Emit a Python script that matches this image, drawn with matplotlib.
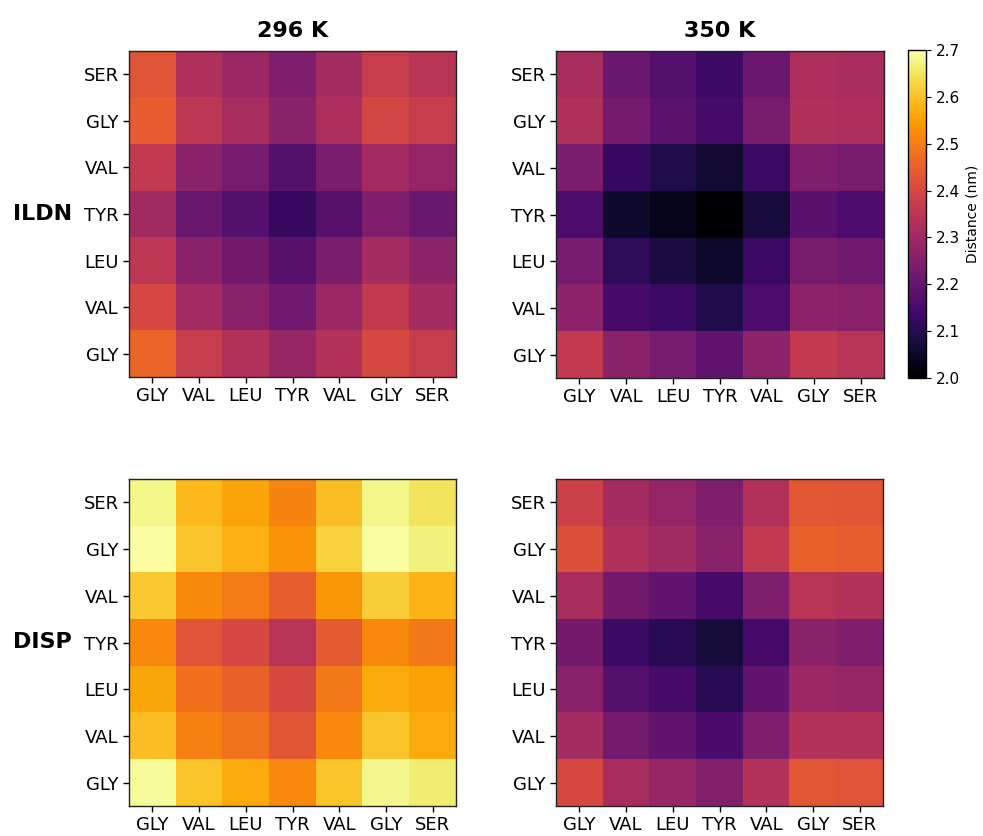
import numpy as np
import matplotlib
matplotlib.use("Agg")
import matplotlib.pyplot as plt

residues = ["GLY", "VAL", "LEU", "TYR", "VAL", "GLY", "SER"]
temps = ["296 K", "350 K"]
forcefields = ["ILDN", "DISP"]

# rows listed top to bottom as displayed (SER, GLY, VAL, TYR, LEU, VAL, GLY)
ildn_296 = [
    [2.427, 2.330, 2.295, 2.245, 2.310, 2.370, 2.345],
    [2.445, 2.350, 2.315, 2.265, 2.320, 2.395, 2.370],
    [2.362, 2.265, 2.230, 2.175, 2.238, 2.308, 2.280],
    [2.305, 2.210, 2.175, 2.122, 2.180, 2.245, 2.210],
    [2.350, 2.265, 2.225, 2.180, 2.240, 2.310, 2.273],
    [2.400, 2.308, 2.265, 2.220, 2.290, 2.362, 2.310],
    [2.458, 2.370, 2.333, 2.287, 2.336, 2.400, 2.370],
]
ildn_350 = [
    [2.315, 2.210, 2.175, 2.133, 2.213, 2.320, 2.315],
    [2.330, 2.228, 2.185, 2.150, 2.235, 2.330, 2.320],
    [2.240, 2.122, 2.090, 2.063, 2.130, 2.245, 2.235],
    [2.158, 2.056, 2.035, 2.000, 2.073, 2.182, 2.160],
    [2.230, 2.112, 2.077, 2.052, 2.126, 2.235, 2.217],
    [2.270, 2.150, 2.130, 2.088, 2.158, 2.270, 2.262],
    [2.362, 2.265, 2.230, 2.190, 2.270, 2.362, 2.343],
]
disp_296 = [
    [2.680, 2.590, 2.560, 2.510, 2.595, 2.680, 2.650],
    [2.697, 2.605, 2.575, 2.535, 2.623, 2.697, 2.672],
    [2.612, 2.520, 2.497, 2.448, 2.540, 2.617, 2.580],
    [2.515, 2.427, 2.400, 2.343, 2.438, 2.518, 2.494],
    [2.563, 2.480, 2.452, 2.402, 2.494, 2.567, 2.553],
    [2.595, 2.508, 2.483, 2.430, 2.518, 2.602, 2.567],
    [2.690, 2.602, 2.567, 2.515, 2.602, 2.683, 2.662],
]
disp_350 = [
    [2.382, 2.310, 2.280, 2.245, 2.333, 2.434, 2.430],
    [2.420, 2.330, 2.305, 2.265, 2.362, 2.452, 2.448],
    [2.315, 2.225, 2.196, 2.150, 2.245, 2.343, 2.336],
    [2.225, 2.130, 2.100, 2.070, 2.150, 2.265, 2.245],
    [2.260, 2.175, 2.150, 2.100, 2.196, 2.294, 2.287],
    [2.310, 2.228, 2.196, 2.154, 2.245, 2.336, 2.336],
    [2.402, 2.315, 2.287, 2.250, 2.336, 2.434, 2.424],
]

vmin, vmax = 2.0, 2.7
cmap = "inferno"

W, H = 983, 836
fig = plt.figure(figsize=(W / 100, H / 100), dpi=100)

def rect(x0, y0, x1, y1):
    return [x0 / W, 1 - y1 / H, (x1 - x0) / W, (y1 - y0) / H]

positions = {
    (0, 0): rect(129, 51, 456, 377),
    (0, 1): rect(556, 51, 884, 378),
    (1, 0): rect(129, 479, 456, 806),
    (1, 1): rect(556, 479, 883, 806),
}
data = {(0, 0): ildn_296, (0, 1): ildn_350, (1, 0): disp_296, (1, 1): disp_350}

im = None
for (r, c), pos in positions.items():
    ax = fig.add_axes(pos)
    im = ax.imshow(np.array(data[(r, c)]), cmap=cmap, vmin=vmin, vmax=vmax,
                   aspect="auto", origin="upper", interpolation="nearest")
    ax.set_xticks(range(len(residues)))
    ax.set_xticklabels(residues, fontsize=13)
    ax.set_yticks(range(len(residues)))
    ax.set_yticklabels(residues[::-1], fontsize=13)
    ax.tick_params(length=4, width=1)
    for s in ax.spines.values():
        s.set_linewidth(1.0)
        s.set_color("#222222")
    if r == 0:
        ax.set_title(temps[c], fontsize=16, fontweight="bold", pad=10)
    if c == 0:
        ax.text(-0.265, 0.5, forcefields[r], transform=ax.transAxes,
                fontsize=16, fontweight="bold", ha="center", va="center")

cax = fig.add_axes(rect(908, 50, 926, 378))
cb = fig.colorbar(im, cax=cax)
cb.set_ticks([2.0, 2.1, 2.2, 2.3, 2.4, 2.5, 2.6, 2.7])
cb.ax.tick_params(labelsize=11)
cb.set_label("Distance (nm)", fontsize=10)
cb.outline.set_linewidth(1.0)

fig.savefig("out.png", dpi=100)
